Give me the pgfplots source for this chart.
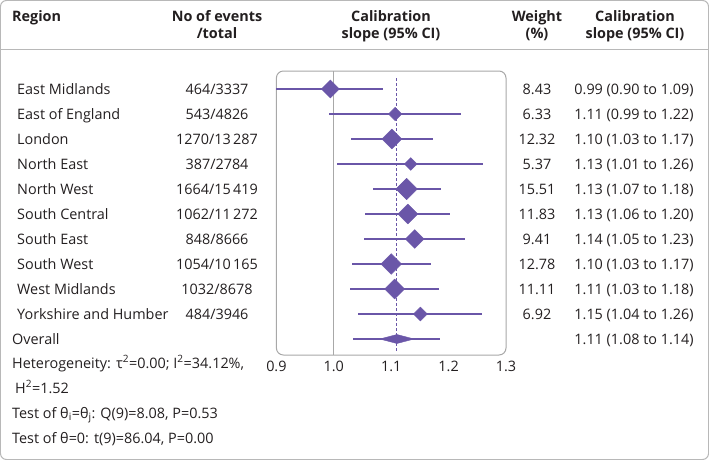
\documentclass[border=0pt]{standalone}
\usepackage{pgfplots}
\pgfplotsset{compat=1.18}
\usepackage{pgfplotstable}
\usepackage{fontspec}
\setmainfont{Open Sans}
\definecolor{pur}{HTML}{6A56A8}
\definecolor{boxgray}{HTML}{A8A8A8}
\definecolor{bordergray}{HTML}{B8B8B8}
\definecolor{txt}{HTML}{231F20}

% y = row position (pixels from top), est, lo, hi, marker size
\pgfplotstableread{
y   est   lo    hi    r
89  0.994 0.900 1.086 6.4
114 1.107 0.992 1.221 4.75
139 1.101 1.030 1.172 7.07
164 1.134 1.006 1.260 4.5
189 1.127 1.069 1.186 7.6
214 1.129 1.055 1.203 7.07
239 1.141 1.053 1.229 6.7
264 1.100 1.031 1.169 7.3
289 1.106 1.028 1.184 7.07
314 1.151 1.042 1.258 4.95
}\datatab

\begin{document}
\begin{tikzpicture}[t/.style={text=txt, inner sep=0pt, font=\fontsize{14.4bp}{17bp}\selectfont},
  h/.style={t, font=\fontsize{14.4bp}{17bp}\selectfont\bfseries}]
\useasboundingbox (0,0) rectangle (709bp,-460bp);
\draw[bordergray, line width=1bp, rounded corners=6bp] (0.5bp,-0.5bp) rectangle (708.5bp,-459.5bp);
\draw[bordergray, line width=1bp] (0.5bp,-49bp) -- (708.5bp,-49bp);

% headers
\node[h, anchor=base west] at (12bp,-21.7bp) {Region};
\node[h, anchor=base] at (217bp,-21.7bp) {No of events};
\node[h, anchor=base] at (217bp,-38.3bp) {/total};
\node[h, anchor=base] at (391bp,-21.7bp) {Calibration};
\node[h, anchor=base] at (391bp,-38.3bp) {slope (95\% CI)};
\node[h, anchor=base] at (537bp,-21.7bp) {Weight};
\node[h, anchor=base] at (537bp,-38.3bp) {(\%)};
\node[h, anchor=base] at (635bp,-21.7bp) {Calibration};
\node[h, anchor=base] at (635bp,-38.3bp) {slope (95\% CI)};

% rows
\foreach \y/\n/\ev/\w/\ci in {
  94/{East Midlands}/{464/3337}/{8.43}/{0.99 (0.90 to 1.09)},
  119/{East of England}/{543/4826}/{6.33}/{1.11 (0.99 to 1.22)},
  144/{London}/{1270/13\,287}/{12.32}/{1.10 (1.03 to 1.17)},
  169/{North East}/{387/2784}/{5.37}/{1.13 (1.01 to 1.26)},
  194/{North West}/{1664/15\,419}/{15.51}/{1.13 (1.07 to 1.18)},
  219/{South Central}/{1062/11\,272}/{11.83}/{1.13 (1.06 to 1.20)},
  244/{South East}/{848/8666}/{9.41}/{1.14 (1.05 to 1.23)},
  269/{South West}/{1054/10\,165}/{12.78}/{1.10 (1.03 to 1.17)},
  294/{West Midlands}/{1032/8678}/{11.11}/{1.11 (1.03 to 1.18)},
  319/{Yorkshire and Humber}/{484/3946}/{6.92}/{1.15 (1.04 to 1.26)}}{
  \node[t, anchor=base west] at (17bp,-\y bp) {\n};
  \node[t, anchor=base] at (217bp,-\y bp) {\ev};
  \node[t, anchor=base] at (537bp,-\y bp) {\w};
  \node[t, anchor=base] at (634bp,-\y bp) {\ci};
}
\node[t, anchor=base west] at (12bp,-344bp) {Overall};
\node[t, anchor=base] at (634bp,-344bp) {1.11 (1.08 to 1.14)};
\node[t, anchor=base west] at (12bp,-368bp) {Heterogeneity: τ\textsuperscript{2}=0.00; I\textsuperscript{2}=34.12\%,};
\node[t, anchor=base west] at (15bp,-393bp) {H\textsuperscript{2}=1.52};
\node[t, anchor=base west] at (12bp,-418bp) {Test of θ\textsubscript{i}=θ\textsubscript{j}: Q(9)=8.08, P=0.53};
\node[t, anchor=base west] at (12bp,-443bp) {Test of θ=0: t(9)=86.04, P=0.00};

\begin{axis}[at={(276.4bp,-355bp)}, anchor=south west,
  scale only axis, width=229.6bp, height=284bp,
  xmin=0.9, xmax=1.3, ymin=71, ymax=355, y dir=reverse,
  axis line style={draw=none}, tick style={draw=none},
  xtick={0.9,1.0,1.1,1.2,1.3}, ytick=\empty,
  xticklabel style={text=txt, font=\fontsize{14.4bp}{17bp}\selectfont, yshift=-3bp},
  /pgf/number format/.cd, fixed, fixed zerofill, precision=1, assume math mode=true,
  /pgfplots/.cd, clip=false]
\draw[boxgray, line width=1bp, rounded corners=7bp] (rel axis cs:0,0) rectangle (rel axis cs:1,1);
\addplot[boxgray, line width=1bp] coordinates {(1.0,71) (1.0,355)};
\addplot[pur, line width=1.1bp, dash pattern=on 3bp off 2bp] coordinates {(1.11,78) (1.11,351)};
\addplot[draw=none, mark=none, error bars/.cd, x dir=both, x explicit,
  error bar style={pur, line width=2.2bp}, error mark=none]
  table[x=est, y=y, x error plus expr=\thisrow{hi}-\thisrow{est}, x error minus expr=\thisrow{est}-\thisrow{lo}] \datatab;
\addplot[only marks, mark=square*, scatter, scatter/use mapped color={draw=pur, fill=pur},
  mark options={rotate=45},
  visualization depends on={\thisrow{r} \as \rr},
  scatter/@pre marker code/.append style={/tikz/mark size=\rr}]
  table[x=est, y=y] \datatab;
% overall
\addplot[pur, line width=2.2bp] coordinates {(1.034,339) (1.185,339)};
\addplot[draw=pur, fill=pur] coordinates {(1.08,339) (1.11,334.5) (1.14,339) (1.11,343.5)} --cycle;
\end{axis}
\end{tikzpicture}
\end{document}
